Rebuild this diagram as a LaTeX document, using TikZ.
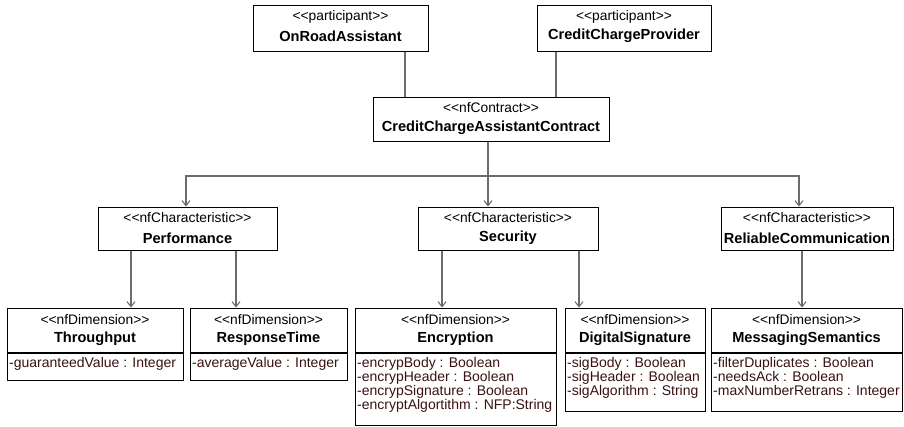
\documentclass[tikz,border=0pt]{standalone}
\usepackage{fontspec}
\setmainfont{Liberation Sans}
\usetikzlibrary{arrows.meta}
\definecolor{linkgray}{HTML}{6C6C6C}
\definecolor{attrbrown}{HTML}{3A1212}
\begin{document}
\begin{tikzpicture}[x=1pt,y=-1pt,
  classbox/.style={draw=black,line width=1pt,fill=white,inner sep=0pt,rectangle},
  stereo/.style={inner sep=0pt,font=\fontsize{13.8}{14}\selectfont},
  cname/.style={inner sep=0pt,font=\fontsize{14.6}{15}\selectfont\bfseries},
  attrs/.style={inner sep=0pt,anchor=north west,align=left,text=attrbrown,
                font=\fontsize{14}{14}\selectfont},
  link/.style={draw=linkgray,line width=1.1pt},
  dep/.style={link,-{Straight Barb[length=5pt,width=8pt]}}]
\useasboundingbox (0,0) rectangle (904,426);

% participants
\node[classbox,minimum width=175,minimum height=46] (A) at (340.5,28) {};
\node[stereo] (A-st) at (340.5,17) {<{}<participant>{}>};
\node[cname]  (A-nm) at (340.5,36) {OnRoadAssistant};

\node[classbox,minimum width=174,minimum height=46] (B) at (624,28) {};
\node[stereo] (B-st) at (624,17) {<{}<participant>{}>};
\node[cname]  (B-nm) at (624,36) {CreditChargeProvider};

% contract
\node[classbox,minimum width=236,minimum height=44] (C) at (491,119) {};
\node[stereo] (C-st) at (491,108) {<{}<nfContract>{}>};
\node[cname]  (C-nm) at (491,128) {CreditChargeAssistantContract};

% characteristics
\node[classbox,minimum width=179,minimum height=43] (P) at (187.5,228.5) {};
\node[stereo] (P-st) at (187.5,218) {<{}<nfCharacteristic>{}>};
\node[cname]  (P-nm) at (187.5,238) {Performance};

\node[classbox,minimum width=180,minimum height=43] (S) at (508,228.5) {};
\node[stereo] (S-st) at (508,218) {<{}<nfCharacteristic>{}>};
\node[cname]  (S-nm) at (508,238) {Security};

\node[classbox,minimum width=172,minimum height=43] (R) at (807,228.5) {};
\node[stereo] (R-st) at (807,218) {<{}<nfCharacteristic>{}>};
\node[cname]  (R-nm) at (807,238) {ReliableCommunication};

% dimensions: header box and attribute box
\node[classbox,minimum width=176,minimum height=44] (T) at (95,330) {};
\node[classbox,minimum width=176,minimum height=27,anchor=north] (T-box) at (T.south) {};
\node[stereo] (T-st) at (95,320) {<{}<nfDimension>{}>};
\node[cname]  (T-nm) at (95,339) {Throughput};
\node[attrs]  (T-at) at (9,357) {-guaranteedValue : Integer};

\node[classbox,minimum width=157,minimum height=44] (RT) at (268.5,330) {};
\node[classbox,minimum width=157,minimum height=27,anchor=north] (RT-box) at (RT.south) {};
\node[stereo] (RT-st) at (268.5,320) {<{}<nfDimension>{}>};
\node[cname]  (RT-nm) at (268.5,339) {ResponseTime};
\node[attrs]  (RT-at) at (192,357) {-averageValue : Integer};

\node[classbox,minimum width=201,minimum height=44] (E) at (455.5,330) {};
\node[classbox,minimum width=201,minimum height=72,anchor=north] (E-box) at (E.south) {};
\node[stereo] (E-st) at (455.5,320) {<{}<nfDimension>{}>};
\node[cname]  (E-nm) at (455.5,339) {Encryption};
\node[attrs]  (E-at) at (357,357) {-encrypBody : Boolean\\-encrypHeader : Boolean\\-encrypSignature : Boolean\\-encryptAlgortithm : NFP:String};

\node[classbox,minimum width=140,minimum height=44] (D) at (635,330) {};
\node[classbox,minimum width=140,minimum height=58,anchor=north] (D-box) at (D.south) {};
\node[stereo] (D-st) at (635,320) {<{}<nfDimension>{}>};
\node[cname]  (D-nm) at (635,339) {DigitalSignature};
\node[attrs]  (D-at) at (567,357) {-sigBody : Boolean\\-sigHeader : Boolean\\-sigAlgorithm : String};

\node[classbox,minimum width=191,minimum height=44] (M) at (806.5,330) {};
\node[classbox,minimum width=191,minimum height=58,anchor=north] (M-box) at (M.south) {};
\node[stereo] (M-st) at (806.5,320) {<{}<nfDimension>{}>};
\node[cname]  (M-nm) at (806.5,339) {MessagingSemantics};
\node[attrs]  (M-at) at (713,357) {-filterDuplicates : Boolean\\-needsAck : Boolean\\-maxNumberRetrans : Integer};

% participant links
\draw[link] (A.south -| 405,0) -- (C.north -| 405,0);
\draw[link] (B.south -| 556,0) -- (C.north -| 556,0);

% contract to characteristics
\coordinate (hub) at (488,176);
\draw[dep] (C.south -| hub) -- (hub) -| (P.north -| 186,0);
\draw[dep] (C.south -| hub) -- (S.north -| hub);
\draw[dep] (C.south -| hub) -- (hub) -| (R.north -| 799,0);

% characteristics to dimensions
\draw[dep] (P.south -| 131,0) -- (T.north -| 131,0);
\draw[dep] (P.south -| 236,0) -- (RT.north -| 236,0);
\draw[dep] (S.south -| 442,0) -- (E.north -| 442,0);
\draw[dep] (S.south -| 579,0) -- (D.north -| 579,0);
\draw[dep] (R.south -| 802,0) -- (M.north -| 802,0);
\end{tikzpicture}
\end{document}
